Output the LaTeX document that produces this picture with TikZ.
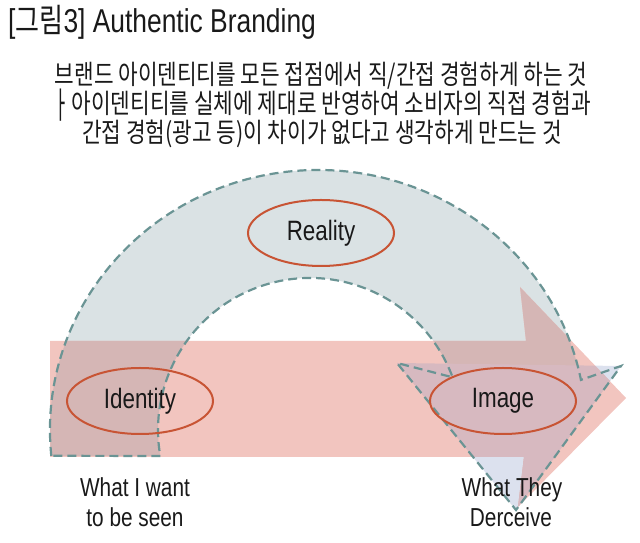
\documentclass[tikz,border=0pt]{standalone}
\usepackage{fontspec}
\usetikzlibrary{shapes.geometric}
\newfontfamily\krfont[FakeStretch=0.79]{Noto Sans CJK KR}
\newfontfamily\latfont[FakeStretch=0.8]{Liberation Sans}
\definecolor{ringblue}{RGB}{218,226,228}
\definecolor{headblue}{RGB}{220,225,238}
\definecolor{pinkfill}{RGB}{242,197,191}
\definecolor{overlapA}{RGB}{213,182,181}
\definecolor{overlapB}{RGB}{215,185,192}
\definecolor{dashteal}{RGB}{106,148,148}
\definecolor{ellred}{RGB}{200,84,52}
\definecolor{txt}{RGB}{25,25,25}
\begin{document}
\begin{tikzpicture}[x=1pt,y=1pt,
  bluepath/.style={insert path={(51.3,87.2) arc[start angle=185.7, end angle=11.1, x radius=268, y radius=260]
      -- (621,177) -- (516,33) -- (397,180) -- (452.6,165.7)
      arc[start angle=20.28, end angle=189.85, radius=152] -- cycle}},
  pinkpath/.style={insert path={(50,86) -- (524,86) -- (518,36) -- (626,145) -- (520,256) -- (526,202) -- (50,202) -- cycle}},
  headpath/.style={insert path={(397,180) -- (621,177) -- (516,33) -- cycle}},
  ellnode/.style={ellipse, draw=ellred, line width=2pt, minimum width=146pt, minimum height=66pt, inner sep=0pt,
      font=\latfont\fontsize{28}{32}\selectfont, text=txt},
  lbl/.style={font=\latfont\fontsize{26}{30}\selectfont, text=txt, anchor=base},
  krline/.style={font=\krfont\fontsize{27}{31}\selectfont, text=txt, anchor=base, inner sep=0pt}]
\useasboundingbox (0,0) rectangle (640,543);
% title
\node[anchor=base west, inner sep=0pt, text=txt, font=\latfont\fontsize{33}{36}\selectfont] (title) at (8,510)
  {\relax[{\krfont 그림}3] Authentic Branding};
% Korean description
\node[krline] (l1) at (321,458) {브랜드 아이덴티티를 모든 접점에서 직/간접 경험하게 하는 것};
\node[krline] (l2) at (322,429) {\raisebox{-5pt}{\scalebox{0.8}[1.35]{ㅏ}}\hspace{-2pt} 아이덴티티를 실체에 제대로 반영하여 소비자의 직접 경험과};
\node[krline] (l3) at (322,400) {간접 경험(광고 등)이 차이가 없다고 생각하게 만드는 것};
% shapes
\fill[ringblue, bluepath];
\fill[headblue, headpath];
\fill[pinkfill, pinkpath];
\begin{scope}
  \clip[bluepath];
  \fill[overlapA, pinkpath];
\end{scope}
\begin{scope}
  \clip[headpath];
  \fill[overlapB, pinkpath];
\end{scope}
\draw[dashteal, line width=2.2pt, dash pattern=on 9pt off 5pt, line join=miter, bluepath];
% ellipses
\node[ellnode] (reality) at (321,310) {Reality};
\node[ellnode] (identity) at (140,142) {Identity};
\node[ellnode] (image) at (503,142) {Image};
% labels
\node[lbl] (want1) at (135,46) {What I want};
\node[lbl] (want2) at (135,16) {to be seen};
\node[lbl] (they1) at (512,46) {What They};
\node[lbl] (they2) at (511,16) {Derceive};
\end{tikzpicture}
\end{document}
